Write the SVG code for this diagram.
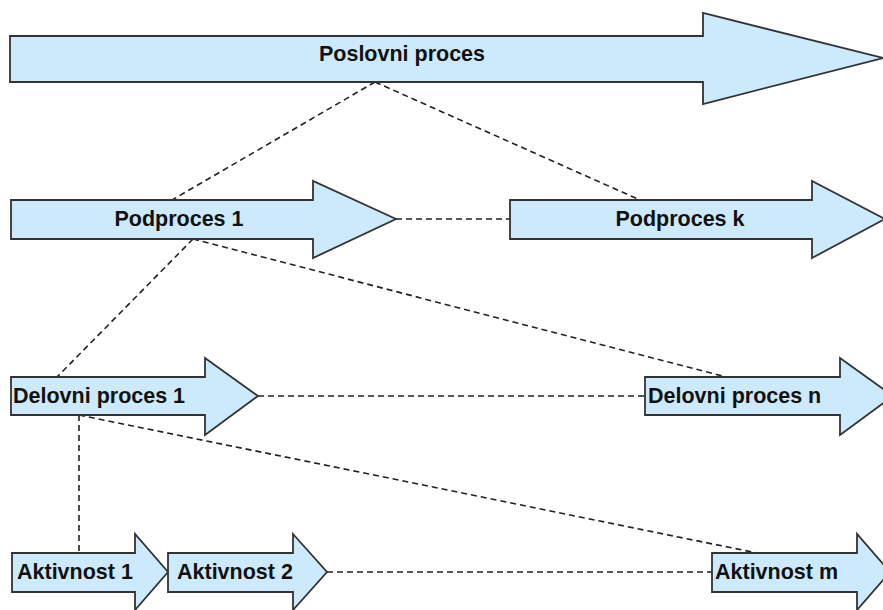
<svg xmlns="http://www.w3.org/2000/svg" width="883" height="610" viewBox="0 0 883 610">
  <style>
    .shape { fill: #cdeafc; stroke: #333333; stroke-width: 1.8; stroke-linejoin: miter; }
    .lbl { font-family: "Liberation Sans", Arial, sans-serif; font-weight: bold; font-size: 21.5px; fill: #111; }
    .link { fill: none; stroke: #222; stroke-width: 1.6; stroke-dasharray: 6 4; }
  </style>
  <rect width="883" height="610" fill="#ffffff"/>

  <!-- dashed hierarchy links -->
  <g id="connectors">
    <line class="link" x1="375" y1="82" x2="172" y2="200"/>
    <line class="link" x1="375" y1="82" x2="640" y2="200"/>
    <line class="link" x1="396" y1="219" x2="510" y2="219"/>
    <line class="link" x1="193" y1="239" x2="57" y2="377"/>
    <line class="link" x1="193" y1="239" x2="726" y2="377"/>
    <line class="link" x1="258" y1="396" x2="645" y2="396"/>
    <line class="link" x1="79" y1="415" x2="79" y2="553"/>
    <line class="link" x1="79" y1="415" x2="757" y2="553"/>
    <line class="link" x1="327" y1="572" x2="712" y2="572"/>
  </g>

  <g id="poslovni-proces">
    <polygon class="shape" points="10,36 703,36 703,13 883,58 703,104 703,82 10,82"/>
    <text class="lbl" x="402" y="61" text-anchor="middle">Poslovni proces</text>
  </g>

  <g id="podproces-1">
    <polygon class="shape" points="11,200 313,200 313,181 396,219 313,258 313,239 11,239"/>
    <text class="lbl" x="179" y="226" text-anchor="middle">Podproces 1</text>
  </g>

  <g id="podproces-k">
    <polygon class="shape" points="510,200 812,200 812,181 885,219 812,258 812,239 510,239"/>
    <text class="lbl" x="680" y="226" text-anchor="middle">Podproces k</text>
  </g>

  <g id="delovni-proces-1">
    <polygon class="shape" points="11,377 205,377 205,358 258,396 205,435 205,415 11,415"/>
    <text class="lbl" x="13" y="403">Delovni proces 1</text>
  </g>

  <g id="delovni-proces-n">
    <polygon class="shape" points="645,377 840,377 840,358 893,396 840,435 840,415 645,415"/>
    <text class="lbl" x="648" y="403">Delovni proces n</text>
  </g>

  <g id="aktivnost-1">
    <polygon class="shape" points="12,553 135,553 135,534 168,572 135,610 135,592 12,592"/>
    <text class="lbl" x="17" y="579">Aktivnost 1</text>
  </g>

  <g id="aktivnost-2">
    <polygon class="shape" points="168,553 293,553 293,534 327,572 293,610 293,592 168,592"/>
    <text class="lbl" x="177" y="579">Aktivnost 2</text>
  </g>

  <g id="aktivnost-m">
    <polygon class="shape" points="712,553 857,553 857,534 890,572 857,610 857,592 712,592"/>
    <text class="lbl" x="715" y="579">Aktivnost m</text>
  </g>
</svg>
